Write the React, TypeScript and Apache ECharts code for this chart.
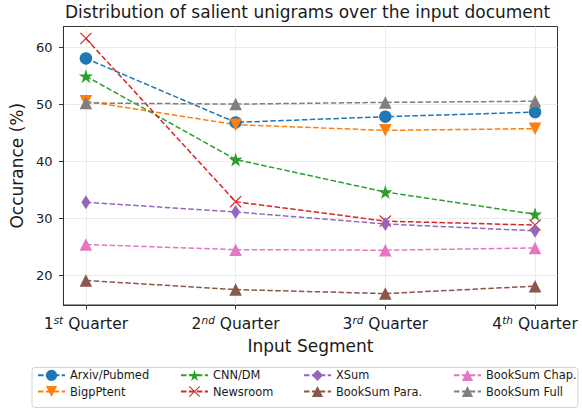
import React, { useEffect, useRef } from "react";
import * as echarts from "echarts";

const quarterNums = ["1", "2", "3", "4"];
const quarterSups = ["st", "nd", "rd", "th"];
const xPositions = [0, 1, 2, 3];
const yTicks = [20, 30, 40, 50, 60];

const seriesNames = [
  "Arxiv/Pubmed",
  "BigpPtent",
  "CNN/DM",
  "Newsroom",
  "XSum",
  "BookSum Para.",
  "BookSum Chap.",
  "BookSum Full",
];

const arxiv = [58.0, 46.8, 47.8, 48.6];
const bigpatent = [50.5, 46.4, 45.4, 45.7];
const cnndm = [54.9, 40.3, 34.6, 30.7];
const newsroom = [61.5, 32.9, 29.5, 28.8];
const xsum = [32.8, 31.1, 29.0, 27.8];
const booksumPara = [19.1, 17.5, 16.8, 18.1];
const booksumChap = [25.4, 24.5, 24.4, 24.8];
const booksumFull = [50.2, 50.0, 50.3, 50.5];

const allValues = [arxiv, bigpatent, cnndm, newsroom, xsum, booksumPara, booksumChap, booksumFull];

const colors = ["#1f77b4", "#ff7f0e", "#2ca02c", "#d62728", "#9467bd", "#8c564b", "#e377c2", "#7f7f7f"];

const STAR =
  "path://M50,0 L61.2,34.5 L97.6,34.5 L68.2,55.9 L79.4,90.5 L50,69.1 L20.6,90.5 L31.8,55.9 L2.4,34.5 L38.8,34.5 Z";
const XMARK =
  "path://M0,7 L7,0 L50,43 L93,0 L100,7 L57,50 L100,93 L93,100 L50,57 L7,100 L0,93 L43,50 Z";

const symbols: any[] = [
  { symbol: "circle", size: 12.5, rotate: 0 },
  { symbol: "triangle", size: 12.5, rotate: 180 },
  { symbol: STAR, size: 14, rotate: 0 },
  { symbol: XMARK, size: 12, rotate: 0 },
  { symbol: "diamond", size: [9, 14], rotate: 0 },
  { symbol: "triangle", size: 12.5, rotate: 0 },
  { symbol: "triangle", size: 12.5, rotate: 0 },
  { symbol: "triangle", size: 12.5, rotate: 0 },
];

const FONT = "DejaVu Sans";

export default function App() {
  const ref = useRef<HTMLDivElement>(null);
  useEffect(() => {
    if (!ref.current) return;
    const chart = echarts.init(ref.current, undefined, { renderer: "svg" });
    const series = seriesNames.map((name, i) => ({
      name,
      type: "line",
      data: allValues[i].map((v, j) => [xPositions[j], v]),
      symbol: symbols[i].symbol,
      symbolSize: symbols[i].size,
      symbolRotate: symbols[i].rotate,
      symbolKeepAspect: false,
      showAllSymbol: true,
      color: colors[i],
      itemStyle: { color: colors[i], opacity: 1 },
      lineStyle: { color: colors[i], width: 1.5, type: [5.5, 2.4] },
      emphasis: { disabled: true },
    }));
    const legendCols = [
      { left: 37, names: [seriesNames[0], seriesNames[1]] },
      { left: 180, names: [seriesNames[2], seriesNames[3]] },
      { left: 303, names: [seriesNames[4], seriesNames[5]] },
      { left: 453, names: [seriesNames[6], seriesNames[7]] },
    ];
    chart.setOption({
      animation: false,
      backgroundColor: "#ffffff",
      textStyle: { fontFamily: FONT },
      title: {
        text: "Distribution of salient unigrams over the input document",
        left: 65,
        top: 3,
        padding: 0,
        textStyle: { fontFamily: FONT, fontSize: 17, fontWeight: "normal", color: "#1a1a1a" },
      },
      graphic: [
        {
          type: "rect",
          z: 0,
          shape: { x: 32, y: 367.5, width: 546, height: 40, r: 3 },
          style: { fill: "#ffffff", stroke: "#d4d4d4", lineWidth: 1 },
        },
      ],
      legend: legendCols.map((c) => ({
        data: c.names,
        orient: "vertical",
        left: c.left,
        top: 369.7,
        padding: 0,
        itemGap: 5,
        itemWidth: 27,
        itemHeight: 14,
        z: 5,
        textStyle: { fontFamily: FONT, fontSize: 11.4, color: "#1a1a1a" },
      })),
      grid: {
        left: 61.5,
        right: 24.5,
        top: 26.5,
        bottom: 105,
        show: true,
        borderColor: "#333333",
        borderWidth: 1,
        backgroundColor: "transparent",
      },
      xAxis: {
        type: "value",
        min: -0.15,
        max: 3.15,
        name: "Input Segment",
        nameLocation: "middle",
        nameGap: 32,
        nameTextStyle: { fontFamily: FONT, fontSize: 17, color: "#1a1a1a" },
        axisLine: { show: true, onZero: false, lineStyle: { color: "#333333", width: 1 } },
        axisTick: {
          show: true,
          customValues: xPositions,
          length: 4.5,
          lineStyle: { color: "#333333" },
        },
        axisLabel: {
          customValues: xPositions,
          margin: 9,
          color: "#1a1a1a",
          formatter: (v: number) => {
            const i = Math.round(v);
            return `{n|${quarterNums[i]}}{s|${quarterSups[i]}}{n| Quarter}`;
          },
          rich: {
            n: { fontFamily: FONT, fontSize: 15.5, color: "#1a1a1a", verticalAlign: "bottom", lineHeight: 18 },
            s: { fontFamily: FONT, fontSize: 10.5, fontStyle: "italic", color: "#1a1a1a", verticalAlign: "top", lineHeight: 18 },
          },
        },
        splitLine: { show: true, lineStyle: { color: "#ebebeb", width: 1 } },
      },
      yAxis: {
        type: "value",
        min: 14.8,
        max: 63.6,
        name: "Occurance (%)",
        nameLocation: "middle",
        nameRotate: 90,
        nameGap: 36,
        nameTextStyle: { fontFamily: FONT, fontSize: 17, color: "#1a1a1a" },
        axisLine: { show: true, onZero: false, lineStyle: { color: "#333333", width: 1 } },
        axisTick: {
          show: true,
          customValues: yTicks,
          length: 4.5,
          lineStyle: { color: "#333333" },
        },
        axisLabel: {
          customValues: yTicks,
          margin: 11,
          fontFamily: FONT,
          fontSize: 13,
          color: "#1a1a1a",
        },
        splitLine: { show: true, lineStyle: { color: "#ebebeb", width: 1 } },
      },
      series,
    });
    return () => chart.dispose();
  }, []);
  return <div ref={ref} style={{ width: 582, height: 410, position: "absolute", left: 0, top: 0 }} />;
}
